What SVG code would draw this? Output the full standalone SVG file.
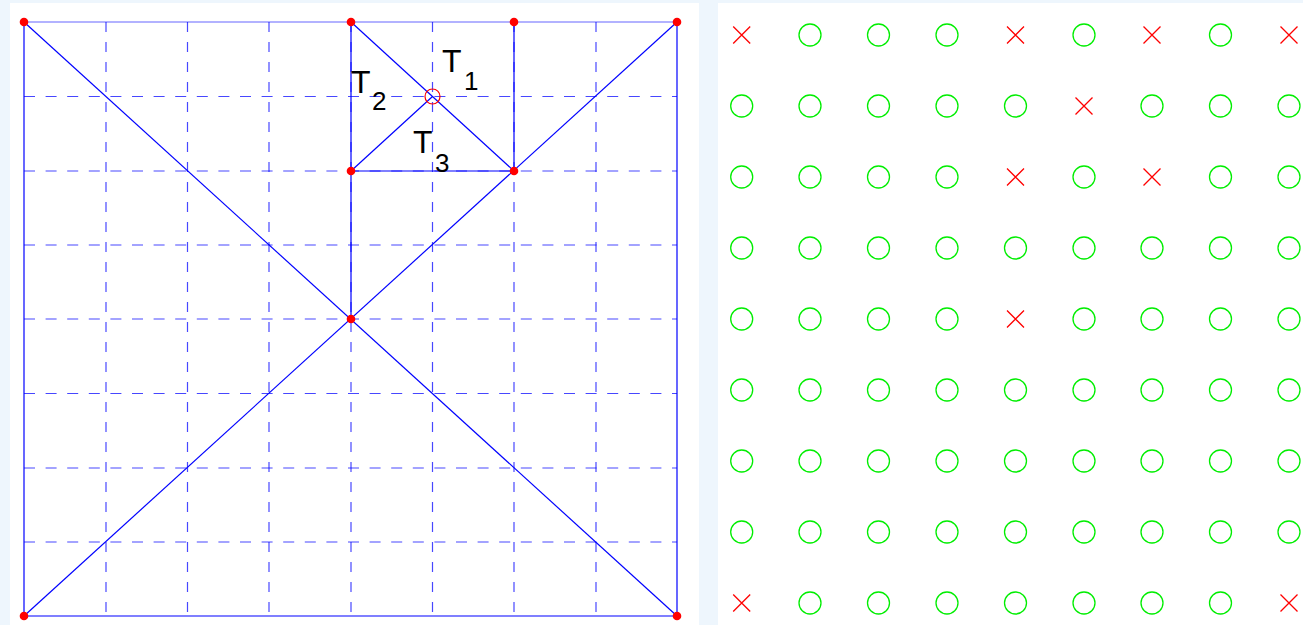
<svg xmlns="http://www.w3.org/2000/svg" width="1303" height="625" viewBox="0 0 1303 625">
<defs>
<style>
.panel{fill:#ffffff}
.gh{stroke:#0000ff;stroke-opacity:0.72;stroke-width:1.2;stroke-dasharray:11 10.6;fill:none}
.gv{stroke:#0000ff;stroke-opacity:0.72;stroke-width:1.2;stroke-dasharray:10 10;fill:none}
.edge{stroke:#0000ff;stroke-width:1.2;fill:none}
.pt{fill:#ff0000}
.lbl{font-family:"Liberation Sans",Arial,sans-serif;fill:#000000}
.ok{fill:none;stroke:#00ee00;stroke-width:1.3}
.bad{stroke:#ff0000;stroke-width:1.3;fill:none}
</style>
<g id="o"><circle class="ok" cx="0" cy="0" r="11"/></g>
<g id="x"><path class="bad" d="M-8.5,-8.5 L8.5,8.5 M-8.5,8.5 L8.5,-8.5"/></g>
</defs>
<rect x="0" y="0" width="1303" height="625" fill="#eef6fd"/>
<rect class="panel" x="10" y="3" width="689" height="622"/>
<rect class="panel" x="718" y="3" width="585" height="622"/>

<g id="grid">
<line class="gh" x1="24" y1="96.5" x2="677" y2="96.5"/>
<line class="gh" x1="24" y1="171" x2="677" y2="171"/>
<line class="gh" x1="24" y1="245" x2="677" y2="245"/>
<line class="gh" x1="24" y1="319" x2="677" y2="319"/>
<line class="gh" x1="24" y1="393.5" x2="677" y2="393.5"/>
<line class="gh" x1="24" y1="468" x2="677" y2="468"/>
<line class="gh" x1="24" y1="542" x2="677" y2="542"/>
<line class="gv" x1="106" y1="22" x2="106" y2="616"/>
<line class="gv" x1="187.5" y1="22" x2="187.5" y2="616"/>
<line class="gv" x1="269" y1="22" x2="269" y2="616"/>
<line class="gv" x1="351" y1="22" x2="351" y2="616"/>
<line class="gv" x1="432.5" y1="22" x2="432.5" y2="616"/>
<line class="gv" x1="514" y1="22" x2="514" y2="616"/>
<line class="gv" x1="596" y1="22" x2="596" y2="616"/>
</g>

<g id="connectors">
<line class="edge" x1="24" y1="22" x2="677" y2="22" stroke-opacity="0.6"/>
<line class="edge" x1="24" y1="22" x2="24" y2="616"/>
<line class="edge" x1="677" y1="22" x2="677" y2="616"/>
<line class="edge" x1="24" y1="616" x2="677" y2="616"/>
<line class="edge" x1="24" y1="22" x2="677" y2="616"/>
<line class="edge" x1="24" y1="616" x2="677" y2="22"/>
<line class="edge" x1="351" y1="22" x2="351" y2="319"/>
<line class="edge" x1="514" y1="22" x2="514" y2="171"/>
<line class="edge" x1="351" y1="171" x2="514" y2="171"/>
<line class="edge" x1="351" y1="22" x2="514" y2="171"/>
<line class="edge" x1="351" y1="171" x2="432.5" y2="96.5"/>
</g>

<g id="vertices">
<circle class="pt" cx="24" cy="22" r="4.3"/>
<circle class="pt" cx="351" cy="22" r="4.3"/>
<circle class="pt" cx="514" cy="22" r="4.3"/>
<circle class="pt" cx="677" cy="22" r="4.3"/>
<circle class="pt" cx="351" cy="171" r="4.3"/>
<circle class="pt" cx="514" cy="171" r="4.3"/>
<circle class="pt" cx="351" cy="319" r="4.3"/>
<circle class="pt" cx="24" cy="616" r="4.3"/>
<circle class="pt" cx="677" cy="616" r="4.3"/>
</g>
<g id="query-point"><circle cx="432.5" cy="96.5" r="7.5" fill="none" stroke="#ff0000" stroke-width="1.2"/></g>

<g id="T1"><text class="lbl" font-size="32"><tspan x="442" y="72">T</tspan><tspan x="464" y="90" font-size="26">1</tspan></text></g>
<g id="T2"><text class="lbl" font-size="32"><tspan x="351" y="93">T</tspan><tspan x="372" y="110" font-size="26">2</tspan></text></g>
<g id="T3"><text class="lbl" font-size="32"><tspan x="413" y="153">T</tspan><tspan x="435" y="172" font-size="26">3</tspan></text></g>

<g id="markers">
<use href="#x" x="741.7" y="35"/><use href="#o" x="810" y="35"/><use href="#o" x="878.5" y="35"/><use href="#o" x="947" y="35"/><use href="#x" x="1015.5" y="35"/><use href="#o" x="1084" y="35"/><use href="#x" x="1152" y="35"/><use href="#o" x="1220.5" y="35"/><use href="#x" x="1289" y="35"/>
<use href="#o" x="741.7" y="106"/><use href="#o" x="810" y="106"/><use href="#o" x="878.5" y="106"/><use href="#o" x="947" y="106"/><use href="#o" x="1015.5" y="106"/><use href="#x" x="1084" y="106"/><use href="#o" x="1152" y="106"/><use href="#o" x="1220.5" y="106"/><use href="#o" x="1289" y="106"/>
<use href="#o" x="741.7" y="177"/><use href="#o" x="810" y="177"/><use href="#o" x="878.5" y="177"/><use href="#o" x="947" y="177"/><use href="#x" x="1015.5" y="177"/><use href="#o" x="1084" y="177"/><use href="#x" x="1152" y="177"/><use href="#o" x="1220.5" y="177"/><use href="#o" x="1289" y="177"/>
<use href="#o" x="741.7" y="248"/><use href="#o" x="810" y="248"/><use href="#o" x="878.5" y="248"/><use href="#o" x="947" y="248"/><use href="#o" x="1015.5" y="248"/><use href="#o" x="1084" y="248"/><use href="#o" x="1152" y="248"/><use href="#o" x="1220.5" y="248"/><use href="#o" x="1289" y="248"/>
<use href="#o" x="741.7" y="319"/><use href="#o" x="810" y="319"/><use href="#o" x="878.5" y="319"/><use href="#o" x="947" y="319"/><use href="#x" x="1015.5" y="319"/><use href="#o" x="1084" y="319"/><use href="#o" x="1152" y="319"/><use href="#o" x="1220.5" y="319"/><use href="#o" x="1289" y="319"/>
<use href="#o" x="741.7" y="390"/><use href="#o" x="810" y="390"/><use href="#o" x="878.5" y="390"/><use href="#o" x="947" y="390"/><use href="#o" x="1015.5" y="390"/><use href="#o" x="1084" y="390"/><use href="#o" x="1152" y="390"/><use href="#o" x="1220.5" y="390"/><use href="#o" x="1289" y="390"/>
<use href="#o" x="741.7" y="461"/><use href="#o" x="810" y="461"/><use href="#o" x="878.5" y="461"/><use href="#o" x="947" y="461"/><use href="#o" x="1015.5" y="461"/><use href="#o" x="1084" y="461"/><use href="#o" x="1152" y="461"/><use href="#o" x="1220.5" y="461"/><use href="#o" x="1289" y="461"/>
<use href="#o" x="741.7" y="532"/><use href="#o" x="810" y="532"/><use href="#o" x="878.5" y="532"/><use href="#o" x="947" y="532"/><use href="#o" x="1015.5" y="532"/><use href="#o" x="1084" y="532"/><use href="#o" x="1152" y="532"/><use href="#o" x="1220.5" y="532"/><use href="#o" x="1289" y="532"/>
<use href="#x" x="741.7" y="603"/><use href="#o" x="810" y="603"/><use href="#o" x="878.5" y="603"/><use href="#o" x="947" y="603"/><use href="#o" x="1015.5" y="603"/><use href="#o" x="1084" y="603"/><use href="#o" x="1152" y="603"/><use href="#o" x="1220.5" y="603"/><use href="#x" x="1289" y="603"/>
</g>
</svg>
